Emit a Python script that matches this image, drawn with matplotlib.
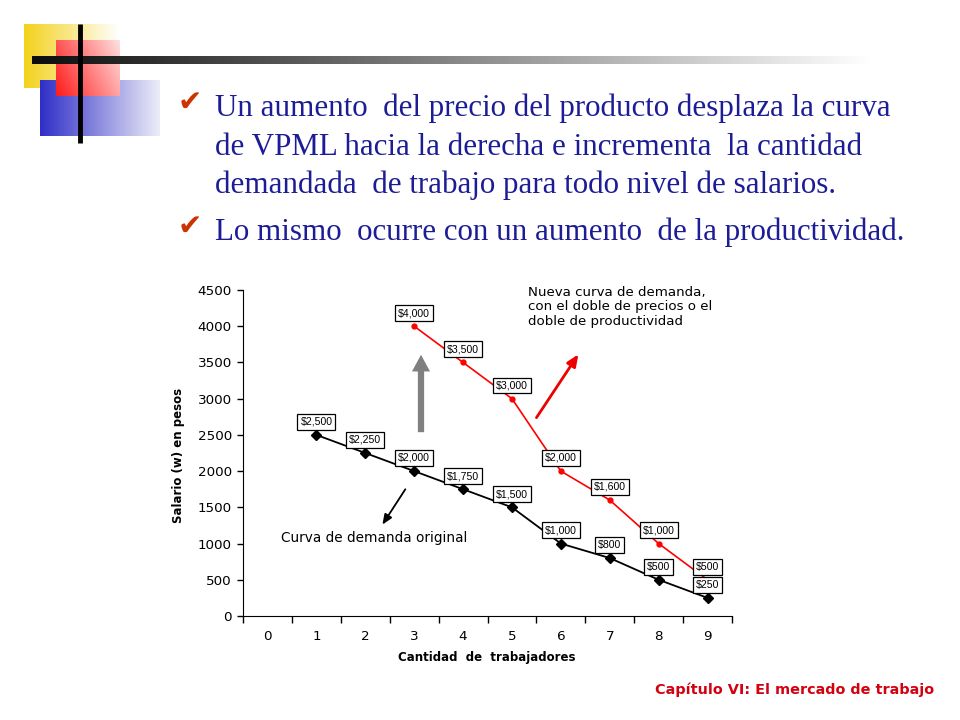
import numpy as np
import matplotlib
matplotlib.use("Agg")
import matplotlib.pyplot as plt

# data
workers = [1, 2, 3, 4, 5, 6, 7, 8, 9]
wage_original = [2500, 2250, 2000, 1750, 1500, 1000, 800, 500, 250]
workers_new = [3, 4, 5, 6, 7, 8, 9]
wage_new = [4000, 3500, 3000, 2000, 1600, 1000, 500]
x_categories = ["0", "1", "2", "3", "4", "5", "6", "7", "8", "9"]
y_ticks = [0, 500, 1000, 1500, 2000, 2500, 3000, 3500, 4000, 4500]

bullet_lines = [
    "Un aumento  del precio del producto desplaza la curva",
    "de VPML hacia la derecha e incrementa  la cantidad",
    "demandada  de trabajo para todo nivel de salarios.",
    "Lo mismo  ocurre con un aumento  de la productividad.",
]
bullet_baselines = [116, 155, 193, 240]
footer = "Capítulo VI: El mercado de trabajo"

W, H = 960, 720
fig = plt.figure(figsize=(9.6, 7.2), dpi=100)

# background axes in pixel coords for the slide decoration
bg = fig.add_axes([0, 0, 1, 1])
bg.axis("off")


def grad_rect(x0, x1, y0, y1, c0, c1, direction="h", z=1):
    c0 = np.array(matplotlib.colors.to_rgb(c0))
    c1 = np.array(matplotlib.colors.to_rgb(c1))
    n = 100
    t = np.linspace(0, 1, n)
    if direction == "h":
        g = np.tile(t, (10, 1))
    else:  # diagonal, bottom-left strong
        tx = np.linspace(0, 1, n)
        ty = np.linspace(1, 0, n)
        g = (tx[None, :] * 0.7 + ty[:, None] * 0.3)
        g = g / g.max()
    img = c0[None, None, :] * (1 - g[..., None]) + c1[None, None, :] * g[..., None]
    bg.imshow(img, extent=(x0, x1, y1, y0), aspect="auto", zorder=z, interpolation="bilinear")


grad_rect(24, 120, 24, 88, "#f3d21c", "#ffffff", z=1)
grad_rect(40, 160, 80, 136, "#2f2fc8", "#ececf8", z=2)
grad_rect(56, 120, 40, 96, "#ff1a1a", "#ffe0e0", direction="d", z=3)

# horizontal gradient bar
bar = np.linspace(0.05, 1, 300)
bar_img = np.stack([bar, bar, bar], axis=-1)[None, :, :]
bg.imshow(bar_img, extent=(32, 870, 64, 56), aspect="auto", zorder=4, interpolation="bilinear")
bg.plot([80, 80], [24, 143], color="black", lw=3.5, zorder=5, solid_capstyle="butt")
bg.set_xlim(0, W)
bg.set_ylim(H, 0)

# bullet text
text_color = "#1c1c96"
check_color = "#cc3300"
for yb in (bullet_baselines[0], bullet_baselines[3]):
    bg.text(178, yb - 13, "\u2714", fontsize=21, color=check_color, family="DejaVu Sans",
            va="center", ha="left", zorder=6)
for line, yb in zip(bullet_lines, bullet_baselines):
    bg.text(215, yb, line, fontsize=22.3, color=text_color, family="Liberation Serif",
            va="baseline", ha="left", zorder=6)

bg.text(934, 690, footer, fontsize=10.4, color="#d40010", family="DejaVu Sans",
        weight="bold", ha="right", va="center")

# chart
left, right, top, bottom = 243, 732, 290, 616
ax = fig.add_axes([left / W, (H - bottom) / H, (right - left) / W, (bottom - top) / H])
ax.set_facecolor("none")

ax.plot(workers, wage_original, color="black", lw=1.3, marker="D", ms=5, zorder=3)
ax.plot(workers_new, wage_new, color="#ff0000", lw=1.2, marker="o", ms=3.5, zorder=3)

label_kw = dict(textcoords="offset points", xytext=(0, 9.5), ha="center", va="center",
                fontsize=7.6, family="Liberation Sans",
                bbox=dict(boxstyle="square,pad=0.28", fc="white", ec="black", lw=0.9), zorder=5)
for x, v in zip(workers, wage_original):
    ax.annotate(f"${v:,}", (x, v), **label_kw)
for x, v in zip(workers_new, wage_new):
    ax.annotate(f"${v:,}", (x, v), **label_kw)

ax.set_xlim(-0.5, 9.5)
ax.set_ylim(0, 4500)
ax.set_yticks(y_ticks)
ax.set_xticks(np.arange(-0.5, 10, 1))
ax.set_xticklabels([])
ax.set_xticks(range(len(x_categories)), minor=True)
ax.set_xticklabels(x_categories, minor=True)
ax.tick_params(axis="x", which="major", direction="out", length=5, width=1)
ax.tick_params(axis="x", which="minor", length=0, pad=10, labelsize=9.7)
ax.tick_params(axis="y", direction="out", length=4, width=1, pad=4, labelsize=9.7)
for lab in ax.get_xticklabels(minor=True) + ax.get_yticklabels():
    lab.set_family("DejaVu Sans")
ax.spines["top"].set_visible(False)
ax.spines["right"].set_visible(False)

ax.set_ylabel("Salario (w) en pesos", fontsize=8.5, weight="bold", family="DejaVu Sans")
ax.yaxis.set_label_coords(-0.119, 0.494)
ax.set_xlabel("Cantidad  de  trabajadores", fontsize=8.5, weight="bold", family="DejaVu Sans")
ax.xaxis.set_label_coords(0.499, -0.108)

# annotations
ax.annotate("", xy=(3.14, 3644), xytext=(3.14, 2499),
            arrowprops=dict(arrowstyle="simple,head_width=1.3,head_length=1.2,tail_width=0.45",
                            color="#808080", lw=0))
ax.annotate("", xy=(2.32, 1229), xytext=(2.85, 1781),
            arrowprops=dict(arrowstyle="-|>,head_width=0.25,head_length=0.6", color="black", lw=1.3))
ax.annotate("", xy=(6.39, 3644), xytext=(5.47, 2706),
            arrowprops=dict(arrowstyle="-|>,head_width=0.3,head_length=0.7", color="#ee0000", lw=2))
ax.text(0.28, 1077, "Curva de demanda original", fontsize=9.8, family="DejaVu Sans",
        ha="left", va="center")
ax.text(5.33, 4560, "Nueva curva de demanda,\ncon el doble de precios o el\ndoble de productividad",
        fontsize=9.6, family="DejaVu Sans", ha="left", va="top", linespacing=1.15)

fig.savefig("out.png", dpi=100, facecolor="white")
